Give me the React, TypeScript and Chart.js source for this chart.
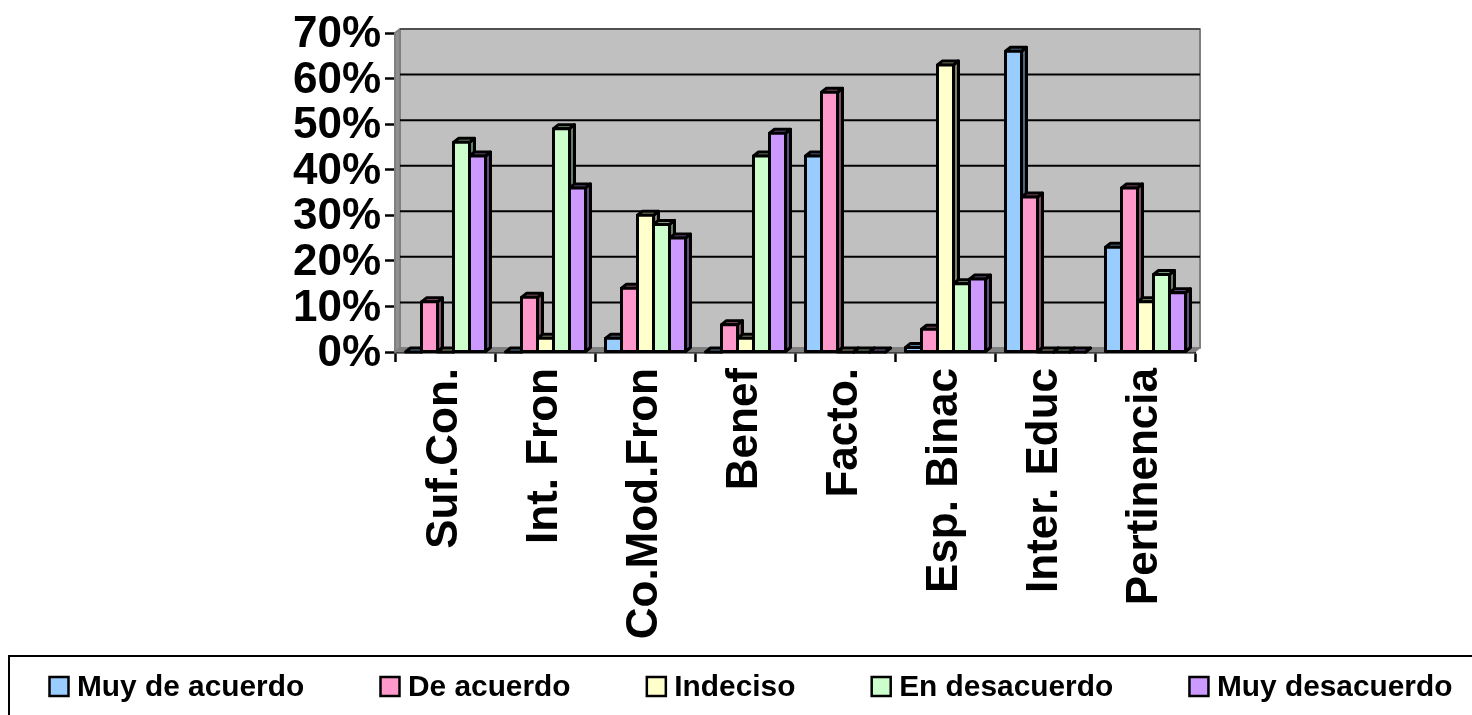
import React, { useEffect, useRef } from "react";
import { Chart, registerables } from "chart.js";

Chart.register(...registerables);

const categories = ["Suf.Con.", "Int. Fron", "Co.Mod.Fron", "Benef", "Facto.", "Esp. Binac", "Inter. Educ", "Pertinencia"];
const muyDeAcuerdo = [0, 0, 3, 0, 43, 1, 66, 23];
const deAcuerdo = [11, 12, 14, 6, 57, 5, 34, 36];
const indeciso = [0, 3, 30, 3, 0, 63, 0, 11];
const enDesacuerdo = [46, 49, 28, 43, 0, 15, 0, 17];
const muyDesacuerdo = [43, 36, 25, 48, 0, 16, 0, 13];

const seriesNames = ["Muy de acuerdo", "De acuerdo", "Indeciso", "En desacuerdo", "Muy desacuerdo"];
const seriesValues = [muyDeAcuerdo, deAcuerdo, indeciso, enDesacuerdo, muyDesacuerdo];
const seriesColors = ["#99CCFF", "#FF99CC", "#FFFFCC", "#CCFFCC", "#CC99FF"];

const FONT = '"Liberation Sans", Arial, sans-serif';
const DX = 5;
const DY = -4;

function shade(hex: string, f: number) {
  const n = parseInt(hex.slice(1), 16);
  const r = Math.round(((n >> 16) & 255) * f);
  const g = Math.round(((n >> 8) & 255) * f);
  const b = Math.round((n & 255) * f);
  return `rgb(${r},${g},${b})`;
}

function poly(ctx: CanvasRenderingContext2D, pts: number[][], fill: string | null, stroke: string | null, lw = 2) {
  ctx.beginPath();
  pts.forEach((p, i) => (i ? ctx.lineTo(p[0], p[1]) : ctx.moveTo(p[0], p[1])));
  ctx.closePath();
  if (fill) {
    ctx.fillStyle = fill;
    ctx.fill();
  }
  if (stroke) {
    ctx.strokeStyle = stroke;
    ctx.lineWidth = lw;
    ctx.lineJoin = "round";
    ctx.stroke();
  }
}

const wallPlugin = {
  id: "wall3d",
  beforeDraw(chart: any) {
    // the reference's value labels sit slightly lower than canvas "middle" alignment
    chart.scales.y.getLabelItems().forEach((item: any) => {
      if (!item.__moved) {
        item.options.translation[1] += 2;
        item.__moved = true;
      }
    });
  },
  beforeDatasetsDraw(chart: any) {
    const { ctx, chartArea: a, scales } = chart;
    ctx.save();
    poly(ctx, [[a.left + DX, a.top + DY], [a.right + DX, a.top + DY], [a.right + DX, a.bottom + DY], [a.left + DX, a.bottom + DY]], "#C0C0C0", "#808080", 2);
    poly(ctx, [[a.left, a.top], [a.left + DX, a.top + DY], [a.left + DX, a.bottom + DY], [a.left, a.bottom]], "#909090", "#808080", 2);
    poly(ctx, [[a.left, a.bottom], [a.left + DX, a.bottom + DY], [a.right + DX, a.bottom + DY], [a.right, a.bottom]], "#808080", "#808080", 1);
    scales.y.ticks.forEach((t: any) => {
      const y = scales.y.getPixelForValue(t.value);
      if (t.value === 0) return;
      ctx.strokeStyle = t.value === 70 ? "#505050" : "#000";
      ctx.lineWidth = 2;
      ctx.beginPath();
      ctx.moveTo(a.left + DX, y + DY);
      ctx.lineTo(a.right + DX, y + DY);
      ctx.stroke();
    });
    chart.data.datasets.forEach((ds: any, i: number) => {
      const meta = chart.getDatasetMeta(i);
      meta.data.forEach((bar: any) => {
        const half = bar.width / 2;
        const l = bar.x - half + 0.5;
        const r = bar.x + half + 0.5;
        const top = bar.y;
        const base = bar.base;
        const lw = 3;
        poly(ctx, [[r, top], [r + DX, top + DY], [r + DX, base + DY], [r, base]], shade(ds.backgroundColor, 0.5), "#000", lw);
        poly(ctx, [[l, top], [l + DX, top + DY], [r + DX, top + DY], [r, top]], shade(ds.backgroundColor, 0.6), "#000", lw);
        if (base - top > 1) {
          poly(ctx, [[l, top], [r, top], [r, base], [l, base]], ds.backgroundColor, "#000", lw);
        }
      });
    });
    ctx.restore();
    return false;
  },
  afterDraw(chart: any) {
    const { ctx } = chart;
    ctx.save();
    ctx.strokeStyle = "#000";
    ctx.lineWidth = 2;
    ctx.strokeRect(9, 656, 1500, 100);
    ctx.font = `bold 29.85px ${FONT}`;
    ctx.textBaseline = "alphabetic";
    ctx.textAlign = "left";
    let x = 49.5;
    chart.data.datasets.forEach((ds: any) => {
      ctx.fillStyle = ds.backgroundColor;
      ctx.fillRect(x, 677, 19, 19);
      ctx.lineWidth = 2.5;
      ctx.strokeRect(x, 677, 19, 19);
      ctx.fillStyle = "#000";
      ctx.fillText(ds.label, x + 27.5, 696);
      x += 27.5 + ctx.measureText(ds.label).width + 76.3;
    });
    ctx.restore();
  },
};

export default function App() {
  const ref = useRef<HTMLCanvasElement>(null);
  useEffect(() => {
    const chart = new Chart(ref.current!, {
      type: "bar",
      data: {
        labels: categories,
        datasets: seriesNames.map((label, i) => ({
          label,
          data: seriesValues[i],
          backgroundColor: seriesColors[i],
          borderColor: "#000",
          borderWidth: 2,
          borderSkipped: false,
          categoryPercentage: 0.8,
          barPercentage: 1,
        })),
      },
      options: {
        responsive: false,
        animation: false,
        layout: { padding: { top: 33, right: 277, left: 0, bottom: 0 } },
        plugins: { legend: { display: false }, tooltip: { enabled: false }, title: { display: false } },
        scales: {
          x: {
            afterFit: (s: any) => {
              s.height = 363;
            },
            grid: { drawOnChartArea: false, tickLength: 10, tickColor: "#000", tickWidth: 2.5, offset: true },
            border: { color: "#000", width: 2.5 },
            ticks: {
              autoSkip: false,
              minRotation: 90,
              maxRotation: 90,
              padding: 6,
              color: "#000",
              font: { family: FONT, weight: "bold", size: 44 },
            },
          },
          y: {
            min: 0,
            max: 70,
            afterFit: (s: any) => {
              s.width = 395;
            },
            grid: { drawOnChartArea: false, tickLength: 10, tickColor: "#000", tickWidth: 2.5 },
            border: { color: "#000", width: 2.5 },
            ticks: {
              autoSkip: false,
              stepSize: 10,
              padding: 4,
              color: "#000",
              font: { family: FONT, weight: "bold", size: 44 },
              callback: (v: any) => `${v}%`,
            },
          },
        },
      },
      plugins: [wallPlugin],
    } as any);
    return () => chart.destroy();
  }, []);
  return (
    <div style={{ position: "fixed", left: 0, top: 0, width: 1472, height: 715, background: "#fff" }}>
      <canvas ref={ref} width={1472} height={715} style={{ display: "block" }} />
    </div>
  );
}
